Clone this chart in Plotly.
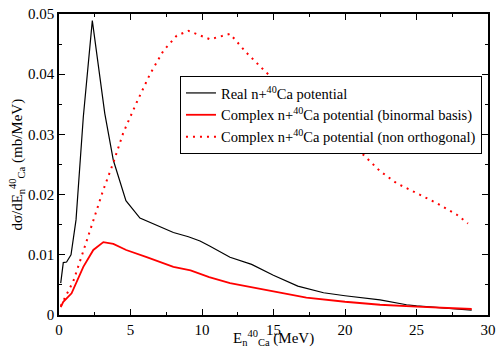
import plotly.graph_objects as go

# Real n+40Ca potential (black)
e_real = [0.12, 0.3, 0.53, 0.84, 1.19, 1.7, 2.33, 3.2, 3.8, 4.68, 5.66, 8.0, 9.05, 9.86, 10.5,
          11.96, 13.47, 14.99, 16.7, 18.5, 20.0, 22.45, 24.3, 25.0, 28.86]
s_real = [0.0053, 0.0087, 0.0088, 0.0100, 0.0158, 0.0329, 0.0489, 0.0335, 0.0257, 0.0190, 0.0161,
          0.0137, 0.0130, 0.0123, 0.0115, 0.0096, 0.0084, 0.0066, 0.0048, 0.0037, 0.0032,
          0.0025, 0.0017, 0.0015, 0.0008]

# Complex n+40Ca potential (binormal basis) (red solid)
e_bin = [0.12, 0.3, 0.88, 1.7, 2.4, 3.1, 3.8, 4.7, 6.13, 8.0, 9.2, 9.86, 10.5, 11.96,
         15.0, 17.3, 20.0, 22.45, 25.0, 28.86]
s_bin = [0.0013, 0.0022, 0.0036, 0.0080, 0.0108, 0.0121, 0.0118, 0.0108, 0.0096, 0.0080,
         0.0074, 0.0068, 0.0063, 0.0053, 0.0039, 0.0029, 0.0022, 0.0017, 0.0014, 0.0010]

# Complex n+40Ca potential (non orthogonal) (red dotted)
e_non = [0.12, 1.0, 1.7, 2.4, 3.1, 3.8, 4.5, 5.43, 6.36, 7.3, 8.23, 9.05, 10.56, 11.96,
         13.1, 14.4, 16.0, 18.0, 20.0, 21.2, 22.45, 23.6, 25.0, 26.4, 27.8, 28.6]
s_non = [0.0015, 0.0056, 0.0106, 0.0158, 0.0208, 0.0253, 0.0303, 0.0353, 0.0400, 0.0439,
         0.0464, 0.0472, 0.0458, 0.0467, 0.0436, 0.0405, 0.0370, 0.0333, 0.0295, 0.0268,
         0.0239, 0.0219, 0.0202, 0.0186, 0.0167, 0.0152]

names = ["Real n+<sup>40</sup>Ca potential",
         "Complex n+<sup>40</sup>Ca potential (binormal basis)",
         "Complex n+<sup>40</sup>Ca potential (non orthogonal)"]

x_ticks = [0, 5, 10, 15, 20, 25, 30]
y_ticks = [0, 0.01, 0.02, 0.03, 0.04, 0.05]
y_labels = ["0", "0.01", "0.02", "0.03", "0.04", "0.05"]

x_title = "E<sub>n</sub><sup>40</sup><sub>Ca</sub> (MeV)"
y_title = "dσ/dE<sub>n</sub><sup>40</sup><sub>Ca</sub> (mb/MeV)"

fig = go.Figure()
fig.add_trace(go.Scatter(x=e_real, y=s_real, mode="lines", name=names[0],
                         line=dict(color="black", width=1.2)))
fig.add_trace(go.Scatter(x=e_bin, y=s_bin, mode="lines", name=names[1],
                         line=dict(color="red", width=1.8)))
fig.add_trace(go.Scatter(x=e_non, y=s_non, mode="lines", name=names[2],
                         line=dict(color="red", width=2, dash="2px,5px")))

font = "Liberation Serif"
axis_common = dict(showline=True, linecolor="black", linewidth=1.5, mirror="allticks",
                   ticks="inside", ticklen=6, tickwidth=1, tickcolor="black",
                   showgrid=False, zeroline=False, automargin=False,
                   tickfont=dict(family=font, size=15, color="black"),
                   minor=dict(ticks="inside", ticklen=3, tickwidth=1, tickcolor="black"))

fig.update_xaxes(range=[0, 30], tickvals=x_ticks, **axis_common)
fig.update_xaxes(minor_dtick=2.5)
fig.update_yaxes(range=[0, 0.05], tickvals=y_ticks, ticktext=y_labels, **axis_common)
fig.update_yaxes(minor_dtick=0.005)

fig.add_annotation(text=x_title, xref="paper", yref="paper", x=0.5, y=-0.116,
                   xanchor="center", yanchor="bottom", showarrow=False,
                   font=dict(family=font, size=15, color="black"))
fig.add_annotation(text=y_title, xref="paper", yref="paper", x=-0.100, y=0.5,
                   xanchor="center", yanchor="middle", showarrow=False, textangle=-90,
                   font=dict(family=font, size=15, color="black"))

fig.update_layout(
    width=498, height=350,
    margin=dict(l=59, r=10, t=14, b=35),
    paper_bgcolor="white", plot_bgcolor="white",
    showlegend=True,
    legend=dict(x=0.282, y=0.794, xanchor="left", yanchor="top",
                bgcolor="white", bordercolor="black", borderwidth=1,
                font=dict(family=font, size=14.5, color="black"),
                itemwidth=30, tracegroupgap=0),
)

# remove the default 8px page margin so the 498x350 figure fills the window exactly
fig.write_html("out.html", config={"displayModeBar": False},
               post_script="document.body.style.margin='0';document.body.style.overflow='hidden';")
